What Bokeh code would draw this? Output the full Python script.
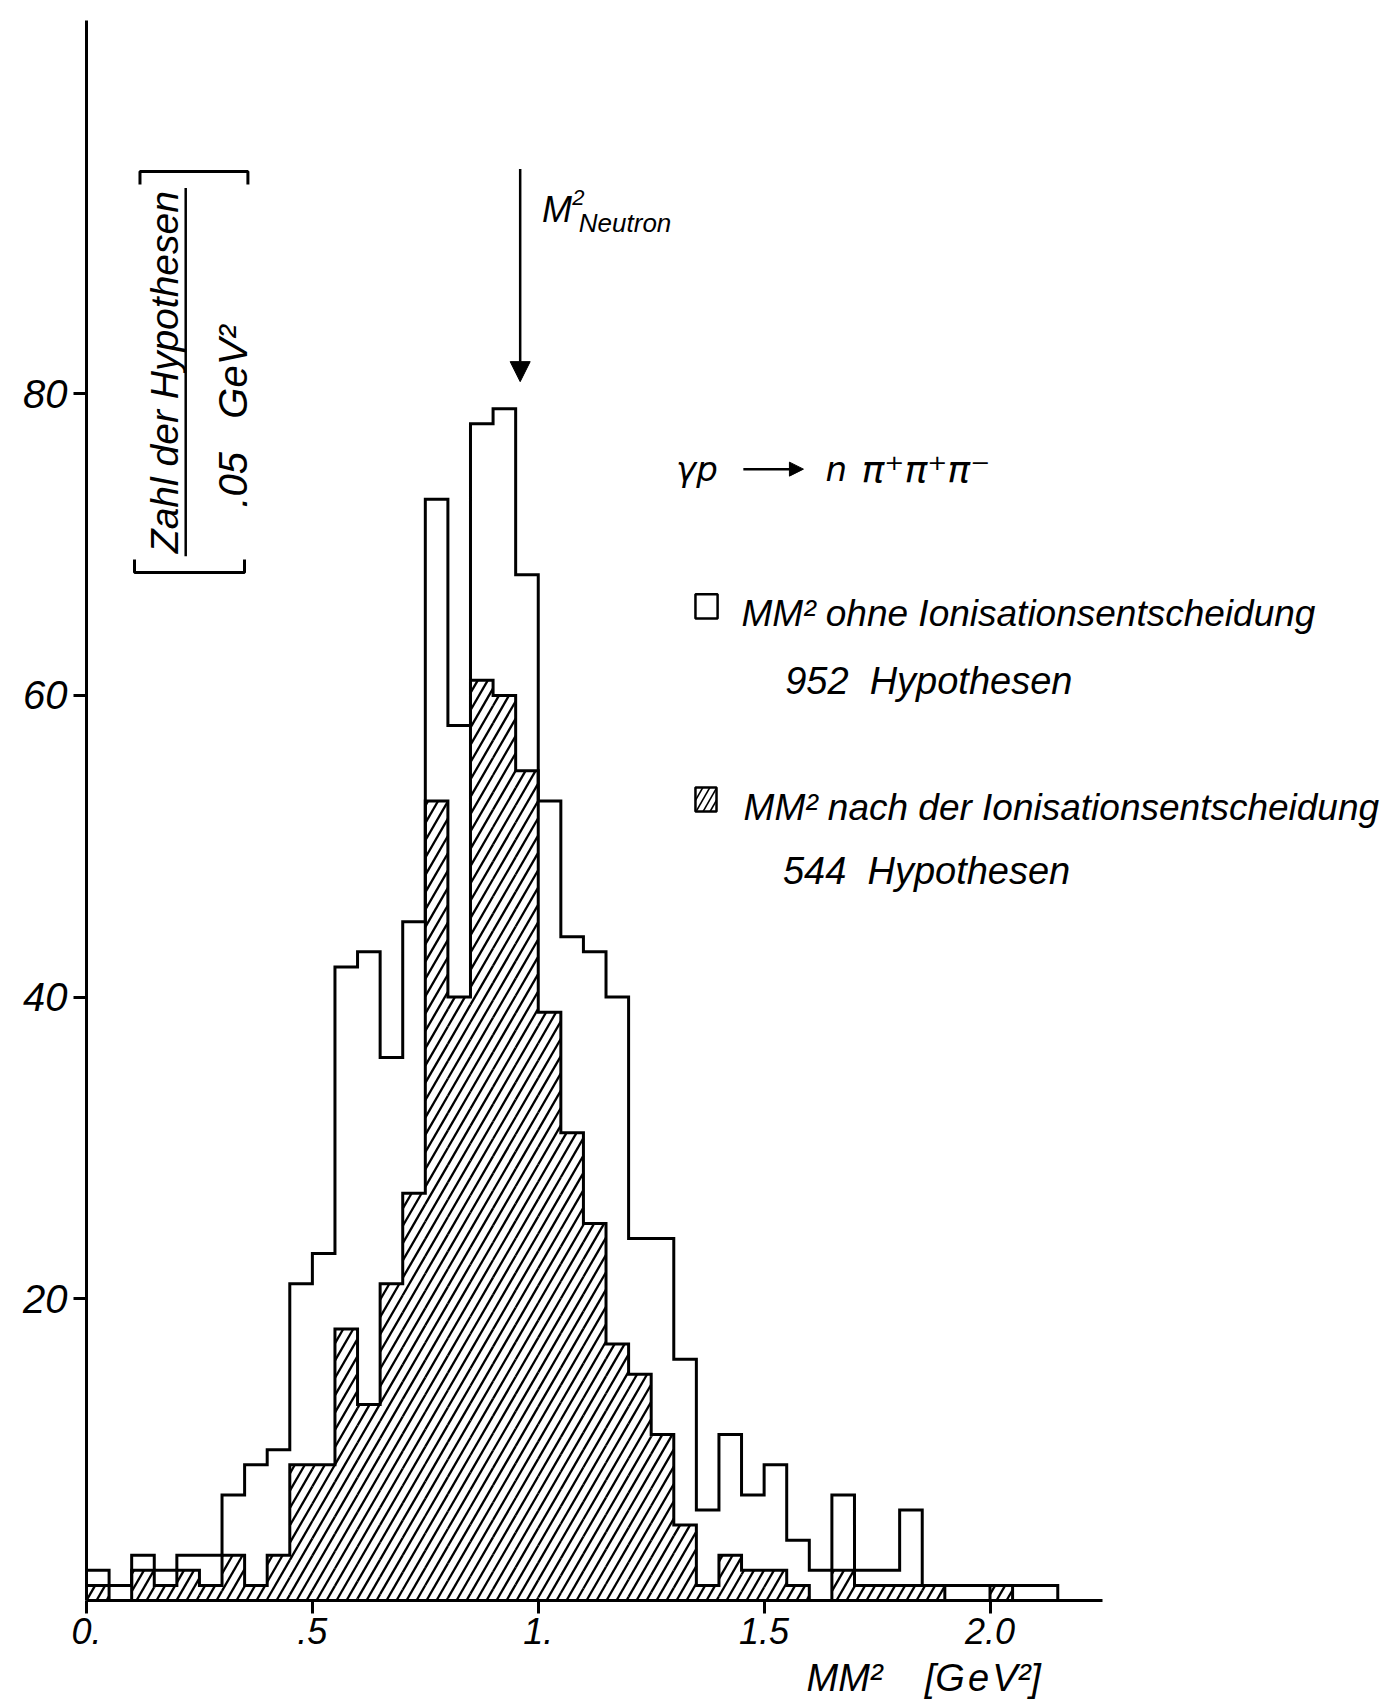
import math
import numpy as np
from bokeh.plotting import figure
from bokeh.models import Range1d, FixedTicker, Arrow, NormalHead, Title
from bokeh.embed import file_html
from bokeh.resources import INLINE
from bokeh.core.properties import value

# ---------------- data ----------------
bin_width = 0.05
bin_start = 0.0
# MM^2 ohne Ionisationsentscheidung (open histogram, 952 Hypothesen)
all_counts = [2, 1, 3, 2, 3, 3, 7, 9, 10, 21, 23, 42, 43, 36, 45, 73, 58, 78, 79, 68,
              53, 44, 43, 40, 24, 24, 16, 6, 11, 7, 9, 4, 2, 7, 2, 2, 6, 1, 1, 1, 1, 1, 1]
# MM^2 nach der Ionisationsentscheidung (hatched histogram, 544 Hypothesen)
cut_counts = [1, 0, 2, 1, 2, 1, 3, 1, 3, 9, 9, 18, 13, 21, 27, 53, 40, 61, 60, 55,
              39, 31, 25, 17, 15, 11, 5, 1, 3, 2, 2, 1, 0, 2, 1, 1, 1, 1, 0, 0, 1]
x_ticks = [0, 0.5, 1, 1.5, 2]
x_tick_labels = ["0.", ".5", "1.", "1.5", "2.0"]
y_ticks = [20, 40, 60, 80]
y_tick_labels = ["20", "40", "60", "80"]
m2_neutron_pos = 0.96

# ---------------- layout ----------------
W, H = 1397, 1708
LEFT, TOP, BOTTOM = 86, 20, 108
SX, SY = 451.75, 15.085          # screen px per data unit
FONT = value("Liberation Sans")
DV = value("DejaVu Sans")
NB = "\u00a0"


def step_outline(counts):
    xs, ys = [bin_start], [0]
    x1 = bin_start
    for i, c in enumerate(counts):
        x0 = bin_start + i * bin_width
        x1 = x0 + bin_width
        xs += [x0, x1]
        ys += [c, c]
    xs.append(x1)
    ys.append(0)
    return xs, ys


def hatch_segments(rects, spacing=10.0, angle_deg=60.0):
    """Diagonal hatch lines (screen-space angle) clipped to data rectangles."""
    t = math.tan(math.radians(angle_deg))
    out = ([], [], [], [])
    for (x0, x1, y0, y1) in rects:
        if y1 <= y0:
            continue
        X0, X1, Y0, Y1 = x0 * SX, x1 * SX, y0 * SY, y1 * SY
        k0 = math.ceil((X0 - Y1 / t) / spacing)
        k1 = math.floor((X1 - Y0 / t) / spacing)
        for k in range(k0, k1 + 1):
            c = k * spacing
            xa = max(X0, c + Y0 / t)
            xb = min(X1, c + Y1 / t)
            if xb - xa < 0.3:
                continue
            out[0].append(xa / SX)
            out[1].append(t * (xa - c) / SY)
            out[2].append(xb / SX)
            out[3].append(t * (xb - c) / SY)
    return out


p = figure(width=W, height=H, output_backend="svg", toolbar_location=None,
           x_range=Range1d(0, (W - LEFT) / SX), y_range=Range1d(0, (H - BOTTOM - TOP) / SY),
           min_border_left=LEFT, min_border_right=0, min_border_top=TOP, min_border_bottom=BOTTOM)
p.outline_line_color = None
p.grid.visible = False
p.background_fill_color = "white"
p.border_fill_color = "white"

# hatched histogram
hx, hy = step_outline(cut_counts)
p.patch(hx, hy, fill_color="white", line_color=None)
rects = [(bin_start + i * bin_width, bin_start + (i + 1) * bin_width, 0, c)
         for i, c in enumerate(cut_counts)]
sx0, sy0, sx1, sy1 = hatch_segments(rects)
p.segment(x0=sx0, y0=sy0, x1=sx1, y1=sy1, line_color="black", line_width=2.3)
p.line(hx, hy, line_color="black", line_width=3, line_join="miter")
# open histogram
ax_, ay_ = step_outline(all_counts)
p.line(ax_, ay_, line_color="black", line_width=3, line_join="miter")

# axes
for ax in (p.xaxis, p.yaxis):
    ax.axis_line_width = 3
    ax.axis_line_color = "black"
    ax.major_tick_line_width = 3
    ax.major_tick_out = 13
    ax.major_tick_in = 0
    ax.minor_tick_out = 0
    ax.minor_tick_in = 0
    ax.major_label_text_font = "Liberation Sans"
    ax.major_label_text_font_style = "italic"
    ax.major_label_text_color = "black"
p.xaxis.ticker = FixedTicker(ticks=x_ticks)
p.xaxis.major_label_overrides = dict(zip(x_ticks, x_tick_labels))
p.xaxis.bounds = (0, 2.25)
p.xaxis.major_label_text_font_size = "36px"
p.xaxis.major_label_standoff = 4
p.yaxis.ticker = FixedTicker(ticks=y_ticks)
p.yaxis.major_label_overrides = dict(zip(y_ticks, y_tick_labels))
p.yaxis.major_label_text_font_size = "40px"
p.yaxis.major_label_standoff = 6

p.add_layout(Title(text="MM²" + NB * 4 + "[G" + "\u200ae\u200aV²]", align="left", offset=720,
                   standoff=17, text_font="Liberation Sans", text_font_style="italic",
                   text_font_size="38px", text_color="black"), "below")


def txt(x, y, s, size, angle=0.0, align="left", font=FONT):
    p.text(x=[x], y=[y], text=[s], angle=angle, text_font=font, text_font_style="italic",
           text_font_size=size, text_align=align, text_baseline="middle", text_color="black")


# y label: fraction in brackets
txt(0.1724, 81.43, "Zahl der Hypothesen", "39px", angle=np.pi / 2, align="center")
p.segment(x0=[0.2196], y0=[69.23], x1=[0.2196], y1=[93.64], line_width=2.5, line_color="black")
txt(0.3238, 78.49, ".05" + NB * 3 + "GeV²", "40px", angle=np.pi / 2, align="center")
p.multi_line(xs=[[0.1184, 0.1184, 0.3573, 0.3573], [0.1063, 0.1063, 0.3498, 0.3498]],
             ys=[[93.87, 94.73, 94.73, 93.87], [69.01, 68.15, 68.15, 69.01]],
             line_width=3, line_color="black")

# neutron mass arrow
p.add_layout(Arrow(end=NormalHead(size=20, fill_color="black", line_color="black"),
                   x_start=m2_neutron_pos, y_start=94.9, x_end=m2_neutron_pos, y_end=80.8,
                   line_width=2.5, line_color="black"))
txt(1.0085, 92.2, "M", "36px")
txt(1.0752, 93.0, "2", "22px")
txt(1.0898, 91.3, "Neutron", "26px")

# reaction
txt(1.305, 75.0, "γp", "34px", font=DV)
p.add_layout(Arrow(end=NormalHead(size=14, fill_color="black", line_color="black"),
                   x_start=1.454, y_start=75.0, x_end=1.587, y_end=75.0,
                   line_width=2.5, line_color="black"))
txt(1.636, 75.0, "n", "34px", font=DV)
txt(1.7155, 75.0, "π⁺π⁺π⁻", "38px", font=DV)

# legend
p.quad(left=[1.348], right=[1.397], bottom=[65.1], top=[66.7], fill_color="white",
       line_color="black", line_width=2.5)
txt(1.450, 65.45, "MM²" + NB + "ohne Ionisationsentscheidung", "37px")
txt(1.5465, 60.96, "952" + NB * 2 + "Hypothesen", "38px")
lx0, ly0, lx1, ly1 = hatch_segments([(1.348, 1.3946, 52.3, 53.9)], spacing=7.0)
p.segment(x0=lx0, y0=ly0, x1=lx1, y1=ly1, line_color="black", line_width=1.6)
p.quad(left=[1.348], right=[1.3946], bottom=[52.3], top=[53.9], fill_color=None,
       line_color="black", line_width=2.5)
txt(1.4545, 52.6, "MM²" + NB + "nach der Ionisationsentscheidung", "37px")
txt(1.5416, 48.39, "544" + NB * 2 + "Hypothesen", "38px")

open("out.html", "w").write(file_html(p, INLINE))
